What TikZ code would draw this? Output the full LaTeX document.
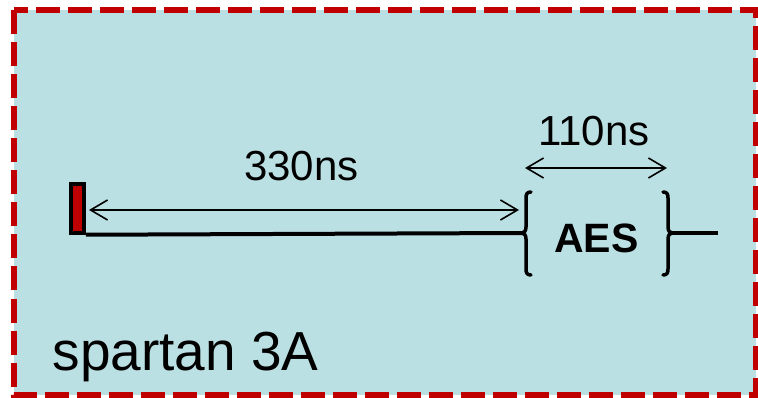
\documentclass[tikz,border=0pt]{standalone}
\usepackage{fontspec}
\setmainfont{Liberation Sans}
\usetikzlibrary{arrows.meta}
\definecolor{bgcyan}{HTML}{BBE0E3}
\definecolor{darkred}{HTML}{C00000}
\tikzset{
  frame/.style={fill=bgcyan, draw=darkred, line width=6pt, dash pattern=on 24pt off 8pt},
  dimarrow/.style={line width=1.6pt, {Straight Barb[length=17pt,width=20pt,line width=1.6pt]}-{Straight Barb[length=17pt,width=20pt,line width=1.6pt]}},
  wire/.style={line width=4pt},
  bracestyle/.style={line width=3.5pt, line cap=round, line join=round},
  lbl/.style={inner sep=0pt, anchor=base, font=\fontsize{42}{42}\selectfont},
}
\begin{document}
\begin{tikzpicture}[x=1pt,y=-1pt]
\useasboundingbox (0,0) rectangle (758,398);
\path[frame] (13.5,10.5) rectangle (756,395);
% red marker
\node[draw=black, fill=darkred, line width=3.5pt, minimum width=13pt, minimum height=49pt, inner sep=0pt] (bar) at (77.5,208.5) {};
% brace tips
\coordinate (ltip) at (522,233);
\coordinate (rtip) at (672,233);
\coordinate (wend) at (718,233);
% wires
\draw[wire] (bar.south east) -- (ltip);
\draw[wire] (rtip) -- (wend);
% braces
\draw[bracestyle] (531,192) .. controls (527,192) and (526,194) .. (526,198) -- (526,227) .. controls (526,231) and (524,233) .. (ltip)
  .. controls (524,233) and (526,235) .. (526,239) -- (526,269) .. controls (526,273) and (527,275) .. (531,275);
\draw[bracestyle] (663,192) .. controls (667,192) and (668,194) .. (668,198) -- (668,227) .. controls (668,231) and (670,233) .. (rtip)
  .. controls (670,233) and (668,235) .. (668,239) -- (668,269) .. controls (668,273) and (667,275) .. (663,275);
% AES
\node[inner sep=0pt, anchor=base, font=\fontsize{41}{41}\selectfont\bfseries] (aes) at (596.5,253) {AES};
% dimension arrows
\coordinate (a1) at (89,210);
\coordinate (a2) at (519,210);
\draw[dimarrow] (a1) -- (a2);
\node[lbl] (t330) at (301.5,181) {330ns};
\coordinate (b1) at (525,168);
\coordinate (b2) at (667,168);
\draw[dimarrow] (b1) -- (b2);
\node[lbl] (t110) at (594,145.5) {110ns};
% label
\node[inner sep=0pt, anchor=base west, font=\fontsize{55}{55}\selectfont] (chip) at (52.5,370) {spartan 3A};
\end{tikzpicture}
\end{document}
